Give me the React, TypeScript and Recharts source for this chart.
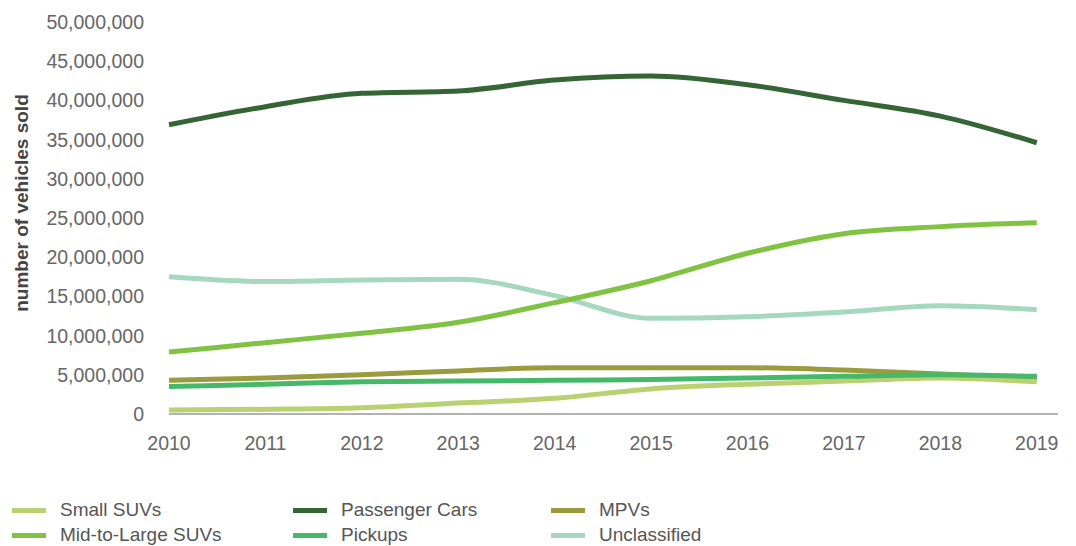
import React from "react";
import { Line, LineChart, XAxis, YAxis } from "recharts";

const years = [2010, 2011, 2012, 2013, 2014, 2015, 2016, 2017, 2018, 2019];
const yTicks = [0, 5e6, 10e6, 15e6, 20e6, 25e6, 30e6, 35e6, 40e6, 45e6, 50e6];

const smallSuvs = [0.5, 0.6, 0.8, 1.4, 2.0, 3.2, 3.8, 4.2, 4.6, 4.1];
const passengerCars = [36.9, 39.2, 40.9, 41.2, 42.6, 43.1, 42.0, 40.0, 38.0, 34.6];
const mpvs = [4.3, 4.6, 5.0, 5.5, 5.9, 5.9, 5.9, 5.6, 5.1, 4.6];
const midLargeSuvs = [7.9, 9.1, 10.3, 11.7, 14.2, 17.0, 20.5, 23.0, 23.9, 24.4];
const pickups = [3.5, 3.8, 4.1, 4.2, 4.3, 4.4, 4.6, 4.8, 5.0, 4.8];
const unclassified = [17.5, 16.9, 17.1, 17.2, 15.1, 12.2, 12.4, 13.0, 13.8, 13.3];

const series = [
  { key: "small", name: "Small SUVs", color: "#b9d170", values: smallSuvs },
  { key: "cars", name: "Passenger Cars", color: "#356534", values: passengerCars },
  { key: "mpv", name: "MPVs", color: "#9a9b3c", values: mpvs },
  { key: "midlarge", name: "Mid-to-Large SUVs", color: "#80c241", values: midLargeSuvs },
  { key: "pickup", name: "Pickups", color: "#45b86a", values: pickups },
  { key: "other", name: "Unclassified", color: "#a6d8c0", values: unclassified },
];

// draw order: back to front
const drawOrder = ["other", "cars", "midlarge", "mpv", "small", "pickup"];

const data = years.map((year, i) => {
  const row: Record<string, number> = { year };
  series.forEach((s) => {
    row[s.key] = s.values[i] * 1e6;
  });
  return row;
});

const font = "'Liberation Sans', Arial, sans-serif";

function YLabel() {
  return (
    <text
      x={21}
      y={203}
      transform="rotate(-90 21 203)"
      textAnchor="middle"
      dominantBaseline="central"
      fill="#444"
      fontSize={19}
      fontWeight={600}
      fontFamily={font}
    >
      number of vehicles sold
    </text>
  );
}

function ChartLegend() {
  const cols = [12, 293, 551];
  return (
    <>
      {series.map((s, i) => (
        <div
          key={s.key}
          style={{
            position: "absolute",
            left: cols[i % 3],
            top: i < 3 ? 499 : 524,
            height: 22,
            display: "flex",
            alignItems: "center",
            fontFamily: font,
            fontSize: 19,
            color: "#555",
          }}
        >
          <span
            style={{
              display: "inline-block",
              width: 34,
              height: 5,
              background: s.color,
              marginRight: 14,
            }}
          />
          {s.name}
        </div>
      ))}
    </>
  );
}

export default function App() {
  return (
    <div
      style={{
        position: "absolute",
        left: 0,
        top: 0,
        width: 1076,
        height: 546,
        background: "#fff",
      }}
    >
      <LineChart
        width={1076}
        height={460}
        data={data}
        margin={{ top: 22, right: 18, bottom: 0, left: 0 }}
      >
        <XAxis
          dataKey="year"
          type="number"
          domain={[2010, 2019.22]}
          ticks={years}
          height={46}
          tickLine={false}
          tickSize={0}
          tickMargin={22}
          axisLine={{ stroke: "#999", strokeWidth: 1.5 }}
          tick={{ fontSize: 19.5, fill: "#666", fontFamily: font }}
        />
        <YAxis
          width={169}
          domain={[0, 50e6]}
          ticks={yTicks}
          tickLine={false}
          tickSize={0}
          tickMargin={25}
          axisLine={false}
          tickFormatter={(v: number) => v.toLocaleString("en-US")}
          tick={{ fontSize: 19.5, fill: "#666", fontFamily: font }}
          label={{ content: () => <YLabel /> }}
        />
        {drawOrder.map((k) => {
          const s = series.find((x) => x.key === k)!;
          return (
            <Line
              key={s.key}
              dataKey={s.key}
              name={s.name}
              type="monotone"
              stroke={s.color}
              strokeWidth={5}
              dot={false}
              activeDot={false}
              isAnimationActive={false}
            />
          );
        })}
      </LineChart>
      <ChartLegend />
    </div>
  );
}
